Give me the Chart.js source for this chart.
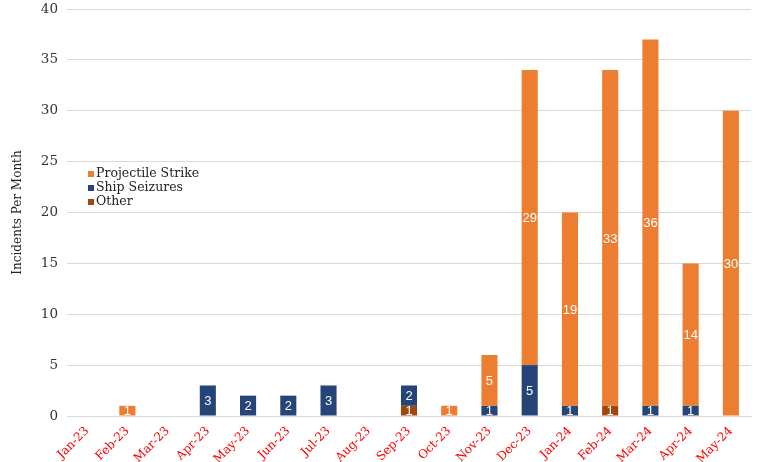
<!DOCTYPE html>
<html>
<head>
<meta charset="utf-8">
<script src="https://cdn.jsdelivr.net/npm/chart.js@4/dist/chart.umd.min.js"></script>
<style>
  html, body { margin: 0; padding: 0; background: #fff; }
  #wrap { width: 757px; height: 462px; }
</style>
</head>
<body>
<div id="wrap"><canvas id="myChart"></canvas></div>
<script>
const months = ['Jan-23', 'Feb-23', 'Mar-23', 'Apr-23', 'May-23', 'Jun-23', 'Jul-23', 'Aug-23', 'Sep-23',
  'Oct-23', 'Nov-23', 'Dec-23', 'Jan-24', 'Feb-24', 'Mar-24', 'Apr-24', 'May-24'];
const projectileStrike = [0, 1, 0, 0, 0, 0, 0, 0, 0, 1, 5, 29, 19, 33, 36, 14, 30];
const shipSeizures = [0, 0, 0, 3, 2, 2, 3, 0, 2, 0, 1, 5, 1, 0, 1, 1, 0];
const other = [0, 0, 0, 0, 0, 0, 0, 0, 1, 0, 0, 0, 0, 1, 0, 0, 0];
const yTicks = [0, 5, 10, 15, 20, 25, 30, 35, 40];

const serif = '"DejaVu Serif", "Liberation Serif", serif';
const ctx = document.getElementById('myChart');

// white numbers in the middle of each stacked piece
const barLabels = {
  id: 'barLabels',
  afterDatasetsDraw(chart) {
    const c = chart.ctx;
    c.save();
    c.fillStyle = '#fff';
    c.font = '13px "Liberation Sans", Arial, sans-serif';
    c.textAlign = 'center';
    c.textBaseline = 'middle';
    chart.data.datasets.forEach((ds, i) => {
      const meta = chart.getDatasetMeta(i);
      meta.data.forEach((bar, j) => {
        const v = ds.data[j];
        if (!v) return;
        c.fillText(String(v), bar.x, (bar.y + bar.base) / 2 + 1);
      });
    });
    c.restore();
  }
};

// legend sits inside the plot, left side
const sideLegend = {
  id: 'sideLegend',
  afterDraw(chart) {
    const c = chart.ctx;
    const items = chart.data.datasets.slice().reverse();
    c.save();
    c.font = '12.5px ' + serif;
    c.textBaseline = 'middle';
    items.forEach((ds, i) => {
      const y = 174 + i * 14;
      c.fillStyle = ds.backgroundColor;
      c.fillRect(88, y - 3, 6, 6);
      c.fillStyle = '#222';
      c.fillText(ds.label, 96, y);
    });
    c.restore();
  }
};

new Chart(ctx, {
  type: 'bar',
  data: {
    labels: months,
    datasets: [
      { label: 'Other', data: other, backgroundColor: '#9E480E' },
      { label: 'Ship Seizures', data: shipSeizures, backgroundColor: '#264478' },
      { label: 'Projectile Strike', data: projectileStrike, backgroundColor: '#ED7D31' }
    ]
  },
  options: {
    responsive: true,
    maintainAspectRatio: false,
    animation: false,
    layout: { padding: { top: 9, right: 6, left: 0, bottom: 0 } },
    datasets: { bar: { barPercentage: 0.4, categoryPercentage: 1 } },
    plugins: {
      legend: { display: false },
      tooltip: { enabled: false }
    },
    scales: {
      x: {
        stacked: true,
        grid: { display: false },
        border: { color: '#d9d9d9', width: 1 },
        ticks: {
          color: '#ff0000',
          font: { family: serif, size: 12 },
          minRotation: 45,
          maxRotation: 45,
          autoSkip: false,
          padding: 0
        },
        afterFit(scale) {
          scale.height = 46;
          scale.paddingLeft = 0;
          scale.paddingRight = 0;
        }
      },
      y: {
        stacked: true,
        min: 0,
        max: 40,
        afterBuildTicks(scale) { scale.ticks = yTicks.map(v => ({ value: v })); },
        grid: { color: '#d9d9d9', drawTicks: false },
        border: { display: false },
        ticks: {
          color: '#333',
          font: { family: serif, size: 13.5 },
          padding: 9
        },
        title: {
          display: true,
          text: 'Incidents Per Month',
          color: '#222',
          font: { family: serif, size: 12 },
          padding: { top: 11, bottom: 4 }
        },
        afterFit(scale) {
          scale.width = 67;
          scale.paddingTop = 0;
          scale.paddingBottom = 0;
        }
      }
    }
  },
  plugins: [barLabels, sideLegend]
});
</script>
</body>
</html>
